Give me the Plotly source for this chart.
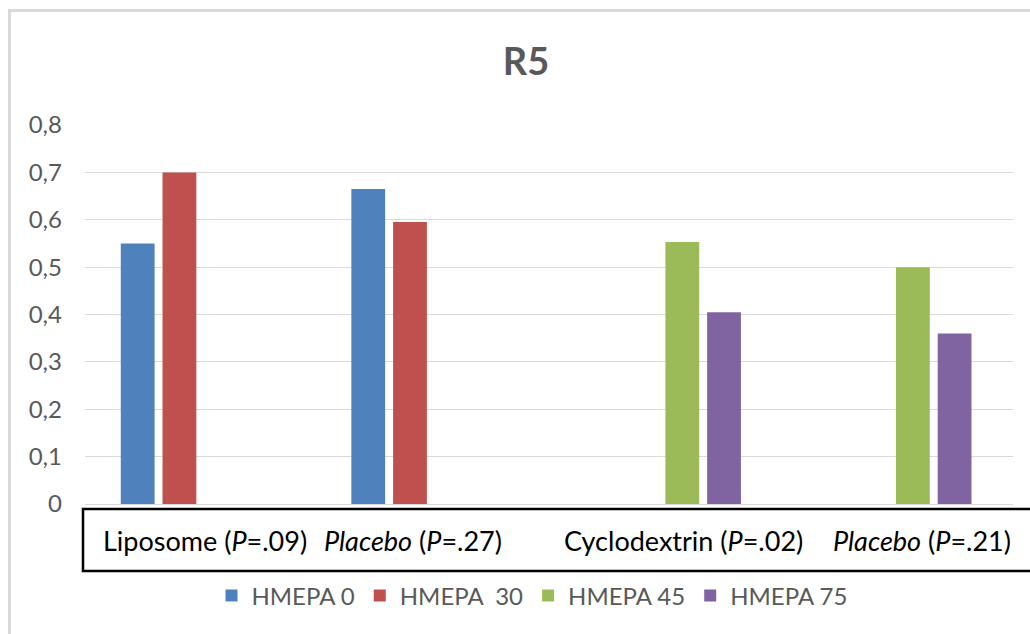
import plotly.graph_objects as go

# Chart data
categories = [
    "Liposome (<i>P</i>=.09)",
    "<i>Placebo</i> (<i>P</i>=.27)",
    "Cyclodextrin (<i>P</i>=.02)",
    "<i>Placebo</i> (<i>P</i>=.21)",
]
series_names = ["HMEPA 0", "HMEPA\u00a0 30", "HMEPA 45", "HMEPA 75"]
hmepa_0 = [0.55, 0.665, None, None]
hmepa_30 = [0.70, 0.595, None, None]
hmepa_45 = [None, None, 0.553, 0.50]
hmepa_75 = [None, None, 0.405, 0.36]
y_ticks = [0, 0.1, 0.2, 0.3, 0.4, 0.5, 0.6, 0.7, 0.8]

colors = ["#4F81BD", "#C0504D", "#9BBB59", "#8064A2"]
series_values = [hmepa_0, hmepa_30, hmepa_45, hmepa_75]

# Canvas / plot-area geometry (pixels)
W_FIG, H_FIG = 1030, 634
M_L, M_R, M_T, M_B = 85, 17, 125, 130
PW = W_FIG - M_L - M_R
PH = H_FIG - M_T - M_B


def px_x(p):
    return (p - M_L) / PW


def px_y(p):
    return (H_FIG - M_B - p) / PH


fig = go.Figure()
for name, vals, col in zip(series_names, series_values, colors):
    fig.add_trace(go.Bar(
        x=categories, y=vals, name=name,
        marker=dict(color=col, line=dict(width=0)),
    ))

gray = "#595959"
grid = "#D9D9D9"

fig.update_layout(
    width=W_FIG, height=H_FIG,
    margin=dict(l=M_L, r=M_R, t=M_T, b=M_B, pad=0),
    paper_bgcolor="white", plot_bgcolor="white",
    barmode="group", bargap=0.276, bargroupgap=0.19,
    separators=", ",
    font=dict(family="Lato", color=gray),
    title=dict(
        text="R5", x=526 / W_FIG, xanchor="center",
        y=1 - 62 / H_FIG, yanchor="middle",
        font=dict(family="Lato", size=38, weight="bold", color=gray),
    ),
    xaxis=dict(
        type="category", showticklabels=False, showgrid=False,
        zeroline=False, showline=False,
    ),
    yaxis=dict(
        range=[0, 0.8], tickvals=y_ticks, showgrid=True, gridcolor=grid,
        gridwidth=1, zeroline=True, zerolinecolor=grid, zerolinewidth=1,
        showline=False, ticks="", ticklabelstandoff=22,
        tickfont=dict(family="Lato", size=24, color=gray),
    ),
    legend=dict(
        orientation="h", x=px_x(532), xanchor="center",
        y=px_y(596), yanchor="middle",
        font=dict(family="Lato", size=24, color=gray),
        itemwidth=30, traceorder="normal",
    ),
    showlegend=True,
)

# Category labels inside the framed strip under the axis
label_shift = [5, -18, 22, 30]
for cat, dx in zip(categories, label_shift):
    fig.add_annotation(
        x=cat, xref="x", y=px_y(540), yref="paper",
        text=cat, showarrow=False, xanchor="center", yanchor="middle",
        xshift=dx, font=dict(family="Lato", size=27, color="black"),
    )

# Frame around the category labels
fig.add_shape(
    type="rect", xref="paper", yref="paper",
    x0=px_x(83), x1=px_x(1040), y0=px_y(571), y1=px_y(509),
    line=dict(color="black", width=2.5), fillcolor="rgba(0,0,0,0)",
)

# Light chart border
fig.add_shape(
    type="rect", xref="paper", yref="paper",
    x0=px_x(9.5), x1=px_x(1045), y0=px_y(650), y1=px_y(10.5),
    line=dict(color=grid, width=3), fillcolor="rgba(0,0,0,0)",
    layer="below",
)

fig.write_html("out.html")
